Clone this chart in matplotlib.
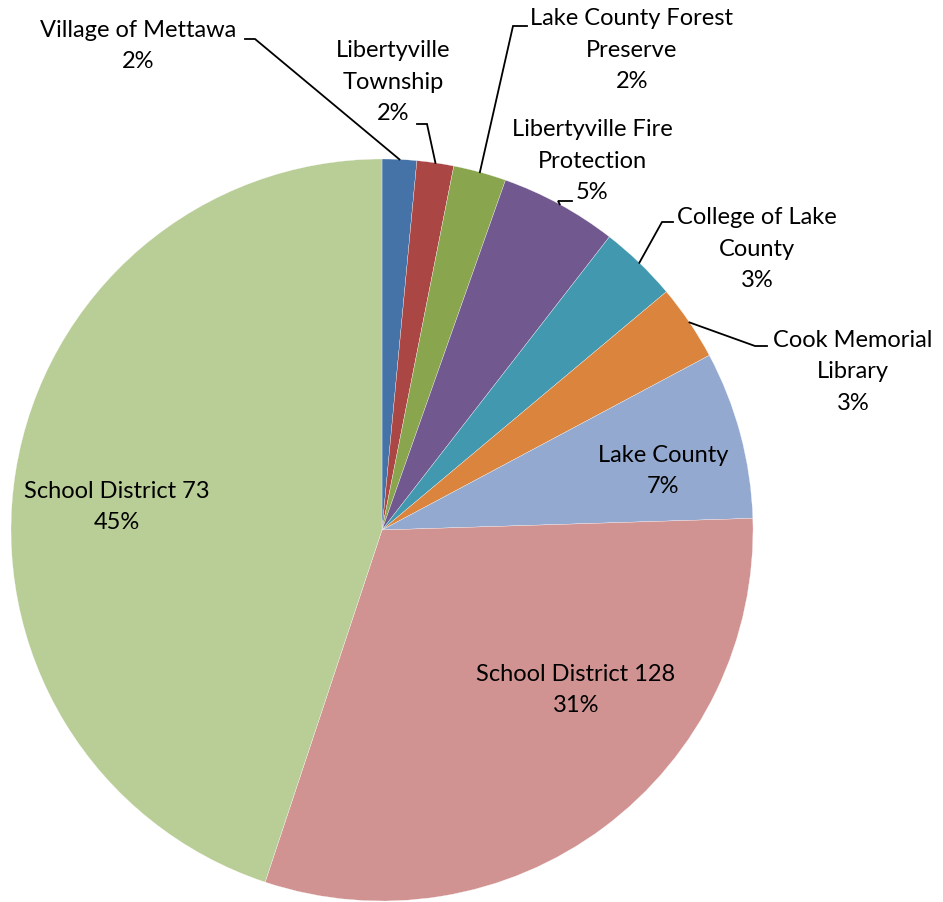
import math
import matplotlib
matplotlib.use('Agg')
import matplotlib.pyplot as plt

# shares (percent of total)
names = ['Village of Mettawa', 'Libertyville Township', 'Lake County Forest Preserve',
         'Libertyville Fire Protection', 'College of Lake County', 'Cook Memorial Library',
         'Lake County', 'School District 128', 'School District 73']
label_names = ['Village of Mettawa', 'Libertyville\nTownship', 'Lake County Forest\nPreserve',
               'Libertyville Fire\nProtection', 'College of Lake\nCounty', 'Cook Memorial\nLibrary',
               'Lake County', 'School District 128', 'School District 73']
shares = [1.5, 1.6, 2.3, 5.1, 3.4, 3.3, 7.3, 30.6, 44.9]
colors = ['#4572A7', '#AA4643', '#89A54E', '#71588F', '#4198AF',
          '#DB843D', '#93A9CF', '#D19392', '#B9CD96']

W, H = 943, 903
CX, CY, R = 382, 531, 371


def py(y):
    # picture rows run downward, axes y runs upward
    return H - y


# label centres (px) and leader elbows (None = label sits inside its slice)
label_pos = [(138, 46), (393, 82), (632, 50), (592, 161), (757, 249), (853, 372),
             (663, 471), (576, 690), (117, 507)]
elbows = [[(245, 40), (255, 40)],
          [(417, 125), (427, 125)],
          [(527, 27), (513, 27)],
          [(572, 202), (558, 202)],
          [(673, 223), (662, 223)],
          [(767, 347), (755, 347)],
          None, None, None]

plt.rcParams['font.family'] = ['Lato', 'DejaVu Sans']

fig = plt.figure(figsize=(W / 100, H / 100), dpi=100)
ax = fig.add_axes([0, 0, 1, 1])
wedges, _ = ax.pie(shares, colors=colors, startangle=90, counterclock=False,
                   center=(CX, py(CY)), radius=R,
                   wedgeprops=dict(edgecolor='white', linewidth=0.2))
ax.set_xlim(0, W)
ax.set_ylim(0, H)
ax.set_aspect('equal')
ax.axis('off')

total = sum(shares)
start = 0.0
for i, s in enumerate(shares):
    frac = s / total
    mid = (start + frac / 2) * 2 * math.pi
    start += frac
    pct = int(math.floor(s + 0.5))
    lx, ly = label_pos[i]
    ax.text(lx, py(ly), '%s\n%d%%' % (label_names[i], pct), ha='center', va='center',
            fontsize=17, color='black', linespacing=1.62)
    if elbows[i] is not None:
        ex = CX + R * math.sin(mid)
        ey = CY - R * math.cos(mid)
        pts = elbows[i] + [(ex, ey)]
        ax.plot([p[0] for p in pts], [py(p[1]) for p in pts], color='black', lw=1.3,
                solid_joinstyle='miter')

fig.savefig('out.png', dpi=100)
